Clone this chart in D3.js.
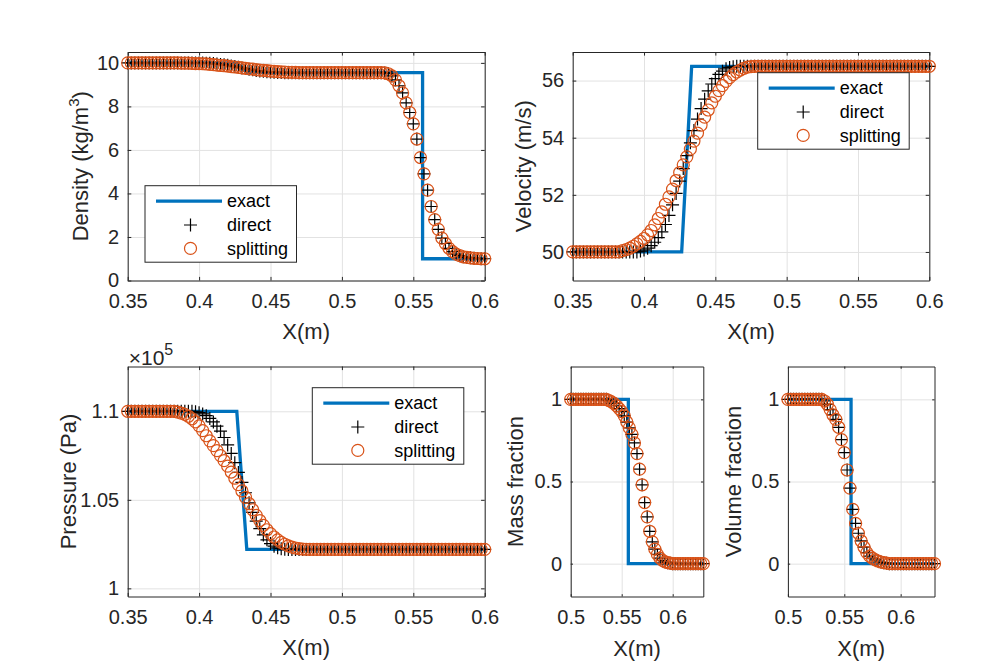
<!DOCTYPE html>
<html lang="en">
<head>
<meta charset="UTF-8">
<title>Exact vs direct vs splitting</title>
<script src="https://cdnjs.cloudflare.com/ajax/libs/d3/7.8.5/d3.min.js"></script>
<style>
  body { margin: 0; background: #fff; }
  svg { display: block; font-family: "Liberation Sans", Arial, Helvetica, sans-serif; }
  .grid line { stroke: #e2e2e2; stroke-width: 1px; }
  .grid .domain { display: none; }
  .axis text { fill: #262626; font-size: 20px; font-family: "Liberation Sans", Arial, sans-serif; }
  .axis line, .axis path { stroke: #262626; stroke-width: 1px; }
  .label { fill: #262626; font-size: 22px; }
  .legend text { fill: #000; font-size: 18px; }
</style>
</head>
<body>
<svg id="chart" width="984" height="671"></svg>
<script>
// cell spacing of the solution grid
const dx = 0.0025;

const seriesNames = ["exact", "direct", "splitting"];

// tick values
const xTicksWide = [0.35, 0.4, 0.45, 0.5, 0.55, 0.6];
const xTicksNarrow = [0.5, 0.55, 0.6];
const densityTicks = [0, 2, 4, 6, 8, 10];
const velocityTicks = [50, 52, 54, 56];
const pressureTicks = [1, 1.05, 1.1];
const fractionTicks = [0, 0.5, 1];

// exact solutions (corner points)
const exactWideX = [0.35, 0.4264, 0.4334, 0.6];
const densityExactX = [0.35, 0.4264, 0.4334, 0.5565, 0.5565, 0.6];
const densityExact = [10, 10, 9.55, 9.55, 1.0, 1.0];
const velocityExact = [50, 50, 56.5, 56.5];
const pressureExact = [1.1, 1.1, 1.022, 1.022];
const massExactX = [0.5, 0.5565, 0.5565, 0.63];
const massExact = [1, 1, 0, 0];
const volumeExactX = [0.5, 0.556, 0.556, 0.63];
const volumeExact = [1, 1, 0, 0];

// density (kg/m^3), x from 0.35 every dx
const densitySplitting = [
  10, 10, 10, 10, 10, 10, 10, 10, 10, 10, 10, 10, 10, 10,
  10.0, 9.99, 9.99, 9.99, 9.98, 9.97, 9.97, 9.96, 9.95, 9.93, 9.92, 9.90, 9.88, 9.87,
  9.85, 9.83, 9.81, 9.79, 9.77, 9.75, 9.73, 9.71, 9.69, 9.67, 9.66, 9.64, 9.62, 9.61,
  9.60, 9.59, 9.58, 9.57, 9.56, 9.56, 9.55, 9.55, 9.55,
  9.55, 9.55, 9.55, 9.55, 9.55, 9.55, 9.55, 9.55, 9.55, 9.55, 9.55, 9.55, 9.55, 9.55,
  9.55, 9.55, 9.55, 9.55, 9.55, 9.55, 9.55,
  9.54, 9.50, 9.40, 9.22, 8.95, 8.62, 8.16, 7.72, 7.20, 6.50, 5.65, 4.90, 4.15, 3.40,
  2.80, 2.35, 1.95, 1.70, 1.48, 1.33, 1.21, 1.14, 1.09, 1.06, 1.04, 1.02, 1.01, 1.0, 1.0
];
const densityDirect = [
  10, 10, 10, 10, 10, 10, 10, 10, 10, 10, 10, 10, 10, 10, 10, 10, 10, 10, 10,
  10.0, 9.995, 9.99, 9.98, 9.98, 9.97, 9.95, 9.93, 9.91, 9.89, 9.86, 9.83, 9.80, 9.77,
  9.74, 9.71, 9.68, 9.65, 9.63, 9.61, 9.59, 9.58, 9.57, 9.56, 9.56, 9.55, 9.55,
  9.55, 9.55, 9.55, 9.55, 9.55, 9.55, 9.55, 9.55, 9.55, 9.55, 9.55, 9.55, 9.55, 9.55,
  9.55, 9.55, 9.55, 9.55, 9.55, 9.55, 9.55, 9.55, 9.55, 9.55, 9.55, 9.55,
  9.54, 9.50, 9.40, 9.22, 8.95, 8.62, 8.16, 7.72, 7.20, 6.50, 5.65, 4.90, 4.15, 3.40,
  2.80, 2.35, 1.95, 1.70, 1.48, 1.33, 1.21, 1.14, 1.09, 1.06, 1.04, 1.02, 1.01, 1.0, 1.0
];

// velocity (m/s), x from 0.35 every dx
const velocitySplitting = [
  50, 50, 50, 50, 50, 50, 50, 50, 50, 50, 50, 50, 50, 50,
  50.05, 50.08, 50.13, 50.20, 50.28, 50.37, 50.47, 50.60, 50.75, 50.95, 51.17, 51.40,
  51.67, 51.93, 52.20, 52.50, 52.78, 53.05, 53.33, 53.60, 53.88, 54.16, 54.44, 54.72,
  54.97, 55.22, 55.45, 55.65, 55.82, 55.97, 56.10, 56.21, 56.30, 56.37, 56.43, 56.47, 56.49,
  56.5, 56.5, 56.5, 56.5, 56.5, 56.5, 56.5, 56.5, 56.5, 56.5, 56.5, 56.5, 56.5, 56.5,
  56.5, 56.5, 56.5, 56.5, 56.5, 56.5, 56.5, 56.5, 56.5, 56.5, 56.5, 56.5, 56.5, 56.5,
  56.5, 56.5, 56.5, 56.5, 56.5, 56.5, 56.5, 56.5, 56.5, 56.5, 56.5, 56.5, 56.5, 56.5,
  56.5, 56.5, 56.5, 56.5, 56.5, 56.5, 56.5, 56.5
];
const velocityDirect = [
  50, 50, 50, 50, 50, 50, 50, 50, 50, 50, 50, 50, 50, 50, 50, 50, 50, 50, 50,
  50.03, 50.07, 50.13, 50.22, 50.34, 50.50, 50.70, 50.96, 51.28, 51.65, 52.05, 52.48,
  52.92, 53.37, 53.82, 54.25, 54.65, 55.02, 55.35, 55.64, 55.88, 56.07, 56.22, 56.33,
  56.41, 56.46, 56.48,
  56.5, 56.5, 56.5, 56.5, 56.5, 56.5, 56.5, 56.5, 56.5, 56.5, 56.5, 56.5, 56.5, 56.5,
  56.5, 56.5, 56.5, 56.5, 56.5, 56.5, 56.5, 56.5, 56.5, 56.5, 56.5, 56.5, 56.5, 56.5,
  56.5, 56.5, 56.5, 56.5, 56.5, 56.5, 56.5, 56.5, 56.5, 56.5, 56.5, 56.5, 56.5, 56.5,
  56.5, 56.5, 56.5, 56.5, 56.5, 56.5, 56.5, 56.5, 56.5, 56.5, 56.5, 56.5, 56.5
];

// pressure (x10^5 Pa), x from 0.35 every dx
const pressureSplitting = [
  1.1, 1.1, 1.1, 1.1, 1.1, 1.1, 1.1, 1.1, 1.1, 1.1, 1.1, 1.1, 1.1, 1.1,
  1.0995, 1.0990, 1.0983, 1.0972, 1.0958, 1.0940, 1.0918, 1.0891, 1.0862, 1.0833,
  1.0806, 1.0778, 1.0750, 1.0721, 1.0690, 1.0657, 1.0622, 1.0586, 1.0550, 1.0514,
  1.0478, 1.0444, 1.0412, 1.0383, 1.0356, 1.0331, 1.0309, 1.0290, 1.0274, 1.0260,
  1.0249, 1.0240, 1.0233, 1.0228, 1.0224, 1.0222, 1.0221,
  1.022, 1.022, 1.022, 1.022, 1.022, 1.022, 1.022, 1.022, 1.022, 1.022, 1.022, 1.022,
  1.022, 1.022, 1.022, 1.022, 1.022, 1.022, 1.022, 1.022, 1.022, 1.022, 1.022, 1.022,
  1.022, 1.022, 1.022, 1.022, 1.022, 1.022, 1.022, 1.022, 1.022, 1.022, 1.022, 1.022,
  1.022, 1.022, 1.022, 1.022, 1.022, 1.022, 1.022, 1.022, 1.022, 1.022, 1.022, 1.022,
  1.022, 1.022
];
const pressureDirect = [
  1.1, 1.1, 1.1, 1.1, 1.1, 1.1, 1.1, 1.1, 1.1, 1.1, 1.1, 1.1, 1.1, 1.1, 1.1, 1.1, 1.1, 1.1, 1.1,
  1.0997, 1.0992, 1.0985, 1.0975, 1.0960, 1.0940, 1.0916, 1.0888, 1.0852, 1.0810,
  1.0762, 1.0710, 1.0655, 1.0598, 1.0540, 1.0483, 1.0429, 1.0380, 1.0337, 1.0302,
  1.0274, 1.0253, 1.0238, 1.0229, 1.0224, 1.0221,
  1.022, 1.022, 1.022, 1.022, 1.022, 1.022, 1.022, 1.022, 1.022, 1.022, 1.022, 1.022,
  1.022, 1.022, 1.022, 1.022, 1.022, 1.022, 1.022, 1.022, 1.022, 1.022, 1.022, 1.022,
  1.022, 1.022, 1.022, 1.022, 1.022, 1.022, 1.022, 1.022, 1.022, 1.022, 1.022, 1.022,
  1.022, 1.022, 1.022, 1.022, 1.022, 1.022, 1.022, 1.022, 1.022, 1.022, 1.022, 1.022,
  1.022, 1.022, 1.022, 1.022, 1.022, 1.022, 1.022, 1.022
];

// mass fraction, x from 0.5 every dx (direct and splitting coincide)
const massFraction = [
  1, 1, 1, 1, 1, 1, 1, 1, 1, 1, 1, 1, 1, 1, 1,
  0.993, 0.985, 0.975, 0.961, 0.944, 0.925, 0.900, 0.862, 0.826, 0.787, 0.735, 0.670,
  0.575, 0.480, 0.372, 0.285, 0.197, 0.133, 0.088, 0.056, 0.034, 0.020, 0.011, 0.006, 0.003,
  0, 0, 0, 0, 0, 0, 0, 0, 0, 0, 0, 0, 0
];

// volume fraction, x from 0.5 every dx (direct and splitting coincide)
const volumeFraction = [
  1, 1, 1, 1, 1, 1, 1, 1, 1, 1, 1, 1, 1,
  0.990, 0.970, 0.938, 0.905, 0.878, 0.830, 0.755, 0.676, 0.570, 0.460, 0.330, 0.245,
  0.185, 0.138, 0.100, 0.067, 0.046, 0.033, 0.023, 0.016, 0.010, 0.006, 0.003,
  0, 0, 0, 0, 0, 0, 0, 0, 0, 0, 0, 0, 0, 0, 0, 0, 0
];

const blue = "#0072BD", orange = "#D95319";
const svg = d3.select("#chart");
svg.append("rect").attr("width", 984).attr("height", 671).attr("fill", "#fff");

const fmt = d => String(+d.toFixed(2));
const crossPath = "M-6.5,0H6.5M0,-6.5V6.5";
const markerR = 6;

const panels = [
  { box: [127.7, 52, 484.7, 280.5], xDomain: [0.35, 0.6], yDomain: [0, 10.5],
    xTicks: xTicksWide, yTicks: densityTicks, x0: 0.35,
    exactX: densityExactX, exact: densityExact, direct: densityDirect, split: densitySplitting,
    ylabel: ["Density (kg/m", "3", ")"], ylabelX: 88, xlabelY: 338.5, legend: [145, 185.7], tick: 3.6 },
  { box: [572.7, 52, 929.3, 280.5], xDomain: [0.35, 0.6], yDomain: [49, 57],
    xTicks: xTicksWide, yTicks: velocityTicks, x0: 0.35,
    exactX: exactWideX, exact: velocityExact, direct: velocityDirect, split: velocitySplitting,
    ylabel: ["Velocity (m/s)"], ylabelX: 531, xlabelY: 338.5, legend: [757.7, 72.7], tick: 3.6 },
  { box: [127.7, 366.5, 484.7, 596.5], xDomain: [0.35, 0.6], yDomain: [0.9954, 1.1253],
    xTicks: xTicksWide, yTicks: pressureTicks, x0: 0.35,
    exactX: exactWideX, exact: pressureExact, direct: pressureDirect, split: pressureSplitting,
    ylabel: ["Pressure (Pa)"], ylabelX: 76, xlabelY: 654.5, legend: [312.3, 387.7], tick: 3.6,
    multiplier: true },
  { box: [570.7, 366.5, 703.3, 596.5], xDomain: [0.5, 0.63], yDomain: [-0.2, 1.2],
    xTicks: xTicksNarrow, yTicks: fractionTicks, x0: 0.5,
    exactX: massExactX, exact: massExact, direct: massFraction, split: massFraction,
    ylabel: ["Mass fraction"], ylabelX: 523, xlabelY: 656, tick: 2.3 },
  { box: [787.9, 366.5, 934.5, 596.5], xDomain: [0.5, 0.63], yDomain: [-0.2, 1.2],
    xTicks: xTicksNarrow, yTicks: fractionTicks, x0: 0.5,
    exactX: volumeExactX, exact: volumeExact, direct: volumeFraction, split: volumeFraction,
    ylabel: ["Volume fraction"], ylabelX: 741, xlabelY: 656, tick: 2.3 }
];

panels.forEach(p => {
  const [L, T, R, B] = p.box;
  const x = d3.scaleLinear().domain(p.xDomain).range([L, R]);
  const y = d3.scaleLinear().domain(p.yDomain).range([B, T]);
  const g = svg.append("g");

  // grid
  g.append("g").attr("class", "grid").attr("transform", `translate(0,${B})`)
    .call(d3.axisBottom(x).tickValues(p.xTicks).tickSize(-(B - T)).tickFormat(""));
  g.append("g").attr("class", "grid").attr("transform", `translate(${L},0)`)
    .call(d3.axisLeft(y).tickValues(p.yTicks).tickSize(-(R - L)).tickFormat(""));

  // axes with inward ticks
  g.append("g").attr("class", "axis").attr("transform", `translate(0,${B})`)
    .call(d3.axisBottom(x).tickValues(p.xTicks).tickSizeInner(-p.tick).tickSizeOuter(0)
      .tickPadding(13.5).tickFormat(fmt));
  g.append("g").attr("class", "axis").attr("transform", `translate(0,${T})`)
    .call(d3.axisTop(x).tickValues(p.xTicks).tickSizeInner(-p.tick).tickSizeOuter(0).tickFormat(""));
  g.append("g").attr("class", "axis").attr("transform", `translate(${L},0)`)
    .call(d3.axisLeft(y).tickValues(p.yTicks).tickSizeInner(-p.tick).tickSizeOuter(0)
      .tickPadding(8.5).tickFormat(fmt));
  g.append("g").attr("class", "axis").attr("transform", `translate(${R},0)`)
    .call(d3.axisRight(y).tickValues(p.yTicks).tickSizeInner(-p.tick).tickSizeOuter(0).tickFormat(""));

  // exact solution
  const line = d3.line().x(d => x(d[0])).y(d => y(d[1]));
  g.append("path").datum(p.exactX.map((v, i) => [v, p.exact[i]]))
    .attr("d", line).attr("fill", "none").attr("stroke", blue).attr("stroke-width", 3.3)
    .attr("stroke-linejoin", "miter");

  // direct (crosses)
  g.append("g").selectAll("path").data(p.direct).join("path")
    .attr("d", crossPath)
    .attr("transform", (d, i) => `translate(${x(p.x0 + i * dx)},${y(d)})`)
    .attr("fill", "none").attr("stroke", "#000").attr("stroke-width", 1.2);

  // splitting (circles)
  g.append("g").selectAll("circle").data(p.split).join("circle")
    .attr("cx", (d, i) => x(p.x0 + i * dx)).attr("cy", d => y(d)).attr("r", markerR)
    .attr("fill", "none").attr("stroke", orange).attr("stroke-width", 1.2);

  // labels
  g.append("text").attr("class", "label").attr("x", (L + R) / 2).attr("y", p.xlabelY)
    .attr("text-anchor", "middle").text("X(m)");
  const yl = g.append("text").attr("class", "label").attr("text-anchor", "middle")
    .attr("transform", `translate(${p.ylabelX},${(T + B) / 2}) rotate(-90)`);
  yl.append("tspan").text(p.ylabel[0]);
  if (p.ylabel.length > 1) {
    yl.append("tspan").attr("font-size", "15px").attr("dy", -9).text(p.ylabel[1]);
    yl.append("tspan").attr("dy", 9).text(p.ylabel[2]);
  }

  if (p.multiplier) {
    const m = g.append("text").attr("class", "label").attr("x", L + 1).attr("y", T - 2)
      .style("font-size", "21px");
    m.append("tspan").text("\u00d710");
    m.append("tspan").attr("font-size", "16px").attr("dy", -10).text("5");
  }

  if (p.legend) {
    const lg = g.append("g").attr("class", "legend")
      .attr("transform", `translate(${p.legend[0]},${p.legend[1]})`);
    lg.append("rect").attr("width", 151.5).attr("height", 76.5)
      .attr("fill", "#fff").attr("stroke", "#262626").attr("stroke-width", 1);
    const rows = [15.5, 39.3, 62.7];
    lg.append("line").attr("x1", 11).attr("x2", 77).attr("y1", rows[0]).attr("y2", rows[0])
      .attr("stroke", blue).attr("stroke-width", 3.3);
    lg.append("path").attr("d", crossPath).attr("transform", `translate(45.5,${rows[1]})`)
      .attr("stroke", "#000").attr("stroke-width", 1.2).attr("fill", "none");
    lg.append("circle").attr("cx", 45.5).attr("cy", rows[2]).attr("r", markerR)
      .attr("stroke", orange).attr("stroke-width", 1.2).attr("fill", "none");
    seriesNames.forEach((s, k) => {
      lg.append("text").attr("x", 82).attr("y", rows[k] + 6.3).text(s);
    });
  }
});
</script>
</body>
</html>
